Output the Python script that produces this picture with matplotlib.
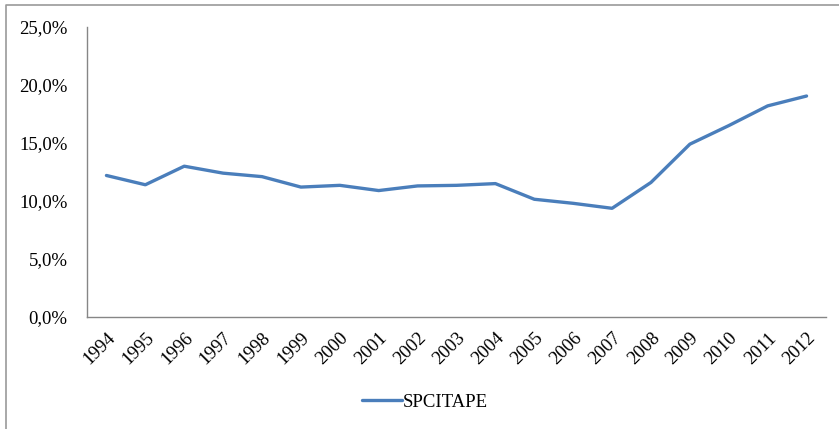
import matplotlib
matplotlib.use("Agg")
import matplotlib.pyplot as plt
from matplotlib.lines import Line2D
from matplotlib.ticker import FuncFormatter

years = [str(y) for y in range(1994, 2013)]
spcitape = [12.2, 11.4, 13.0, 12.4, 12.1, 11.2, 11.35, 10.9, 11.3, 11.35,
            11.5, 10.15, 9.8, 9.37, 11.6, 14.9, 16.5, 18.2, 19.05]
yticks = [0, 5, 10, 15, 20, 25]

plt.rcParams['font.family'] = ['Liberation Serif', 'DejaVu Serif']

fig = plt.figure(figsize=(8.39, 4.29), dpi=100)
ax = fig.add_axes([87/839, 1-317/429, (826-87)/839, (317-27)/429])

x = list(range(len(years)))
ax.plot(x, spcitape, color='#4A7EBB', lw=2.4, solid_capstyle='round', label='SPCITAPE')

ax.set_xlim(-0.5, len(years)-0.5)
ax.set_ylim(0, 25)
ax.set_yticks(yticks)
ax.yaxis.set_major_formatter(FuncFormatter(lambda v, p: f"{v:.1f}%".replace('.', ',')))
ax.set_xticks(x)
ax.set_xticklabels(years, rotation=45, ha='right', rotation_mode='anchor')
ax.tick_params(axis='both', length=0, labelsize=13.5, colors='#000000')
ax.tick_params(axis='y', pad=14)
ax.tick_params(axis='x', pad=9)
for s in ['top', 'right']:
    ax.spines[s].set_visible(False)
for s in ['left', 'bottom']:
    ax.spines[s].set_color('#868686')
    ax.spines[s].set_linewidth(1.0)

leg = fig.legend(loc='center', bbox_to_anchor=(425/839, 1-402/429), frameon=False,
                 fontsize=13.5, handlelength=2.1, handletextpad=0.05)

# outer chart-area border (only top and left edges visible in the crop)
fig.lines.append(Line2D([6/839, 6/839, 1.0], [0.0, 1-5/429, 1-5/429],
                        transform=fig.transFigure, color='#9A9A9A', lw=1.2))

fig.savefig('out.png', dpi=100)
